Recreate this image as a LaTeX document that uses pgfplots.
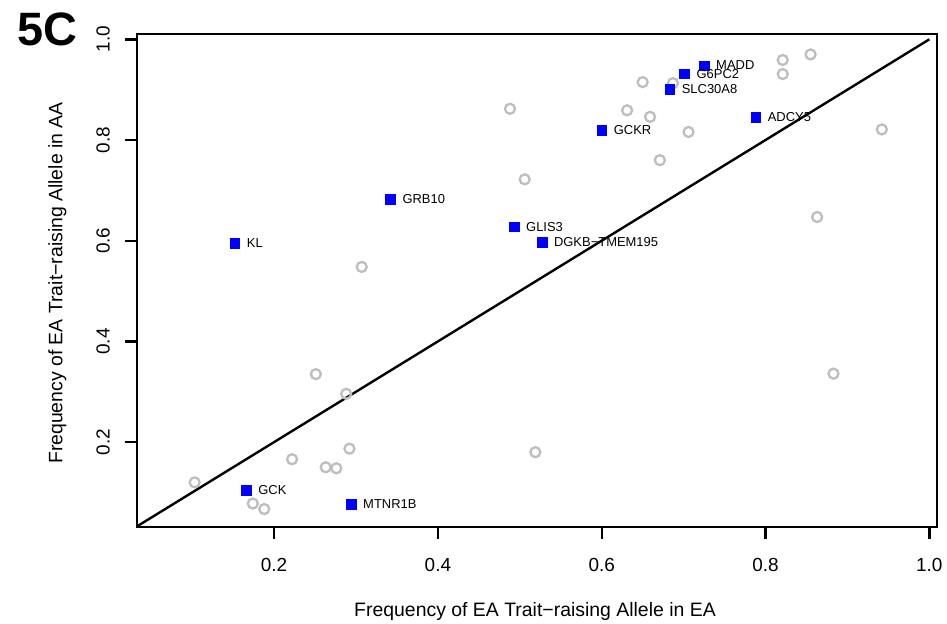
\documentclass[border=0pt]{standalone}
\usepackage{fontspec}
\setmainfont{Liberation Sans}
\usepackage{pgfplots}
\usepackage{pgfplotstable}
\pgfplotsset{compat=1.18}

% loci without a highlighted gene
\pgfplotstableread{
x     y
0.488 0.862
0.506 0.722
0.307 0.548
0.821 0.959
0.855 0.970
0.821 0.931
0.650 0.915
0.687 0.913
0.631 0.859
0.659 0.846
0.706 0.816
0.942 0.821
0.671 0.760
0.863 0.647
0.883 0.336
0.519 0.180
0.251 0.335
0.288 0.296
0.222 0.166
0.292 0.187
0.263 0.150
0.276 0.148
0.103 0.120
0.174 0.078
0.188 0.067
}\otherloci

% named loci
\pgfplotstableread[col sep=comma]{
x,y,gene
0.725,0.948,MADD
0.701,0.932,G6PC2
0.683,0.901,SLC30A8
0.788,0.846,ADCY5
0.600,0.820,GCKR
0.342,0.683,GRB10
0.493,0.628,GLIS3
0.527,0.597,DGKB−TMEM195
0.152,0.595,KL
0.166,0.104,GCK
0.294,0.077,MTNR1B
}\namedloci

\definecolor{rgrey}{RGB}{190,190,190}

\begin{document}
\begin{tikzpicture}
\useasboundingbox (-137.3bp,-97.3bp) rectangle (809.7bp,526.7bp);
\begin{axis}[
  at={(0bp,0bp)}, anchor=south west,
  scale only axis, width=799.4bp, height=492.4bp,
  xmin=0.033, xmax=1.009, ymin=0.032, ymax=1.010,
  axis line style={line width=2.4bp},
  xtick={0.2,0.4,0.6,0.8,1.0}, xticklabels={0.2,0.4,0.6,0.8,1.0},
  ytick={0.2,0.4,0.6,0.8,1.0}, yticklabels={0.2,0.4,0.6,0.8,1.0},
  xtick pos=bottom, ytick pos=left,
  tick align=outside, major tick length=12.5bp,
  tick style={line width=2.4bp, black},
  ticklabel style={font=\fontsize{19}{19}\selectfont, inner sep=0pt},
  xticklabel shift=18.8bp,
  yticklabel shift=14.8bp,
  yticklabel style={rotate=90, anchor=south},
]
\addplot[only marks, mark=o, mark size=5bp, color=rgrey,
  mark options={line width=2.3bp}] table[x=x, y=y] {\otherloci};
\addplot[only marks, mark=square*, mark size=4.8bp, color=blue,
  mark options={draw=blue, fill=blue, line width=0.3bp},
  point meta=explicit symbolic,
  nodes near coords,
  every node near coord/.append style={anchor=west, inner sep=0pt,
    xshift=12bp, yshift=0bp, text=black, font=\fontsize{13}{13}\selectfont}]
  table[x=x, y=y, meta=gene] {\namedloci};
\addplot[black, line width=2.4bp] coordinates {(0,0) (1,1)};
\end{axis}
\node[anchor=base, inner sep=0pt, font=\fontsize{19.5}{19.5}\selectfont]
  at (397.7bp,-89.3bp) {Frequency of EA Trait−raising Allele in EA};
\node[rotate=90, anchor=base, inner sep=0pt, font=\fontsize{19.5}{19.5}\selectfont]
  at (-74.8bp,243.7bp) {Frequency of EA Trait−raising Allele in AA};
\node[anchor=base west, inner sep=0pt, font=\bfseries\fontsize{47}{47}\selectfont]
  at (-119.8bp,481bp) {5C};
\end{tikzpicture}
\end{document}
